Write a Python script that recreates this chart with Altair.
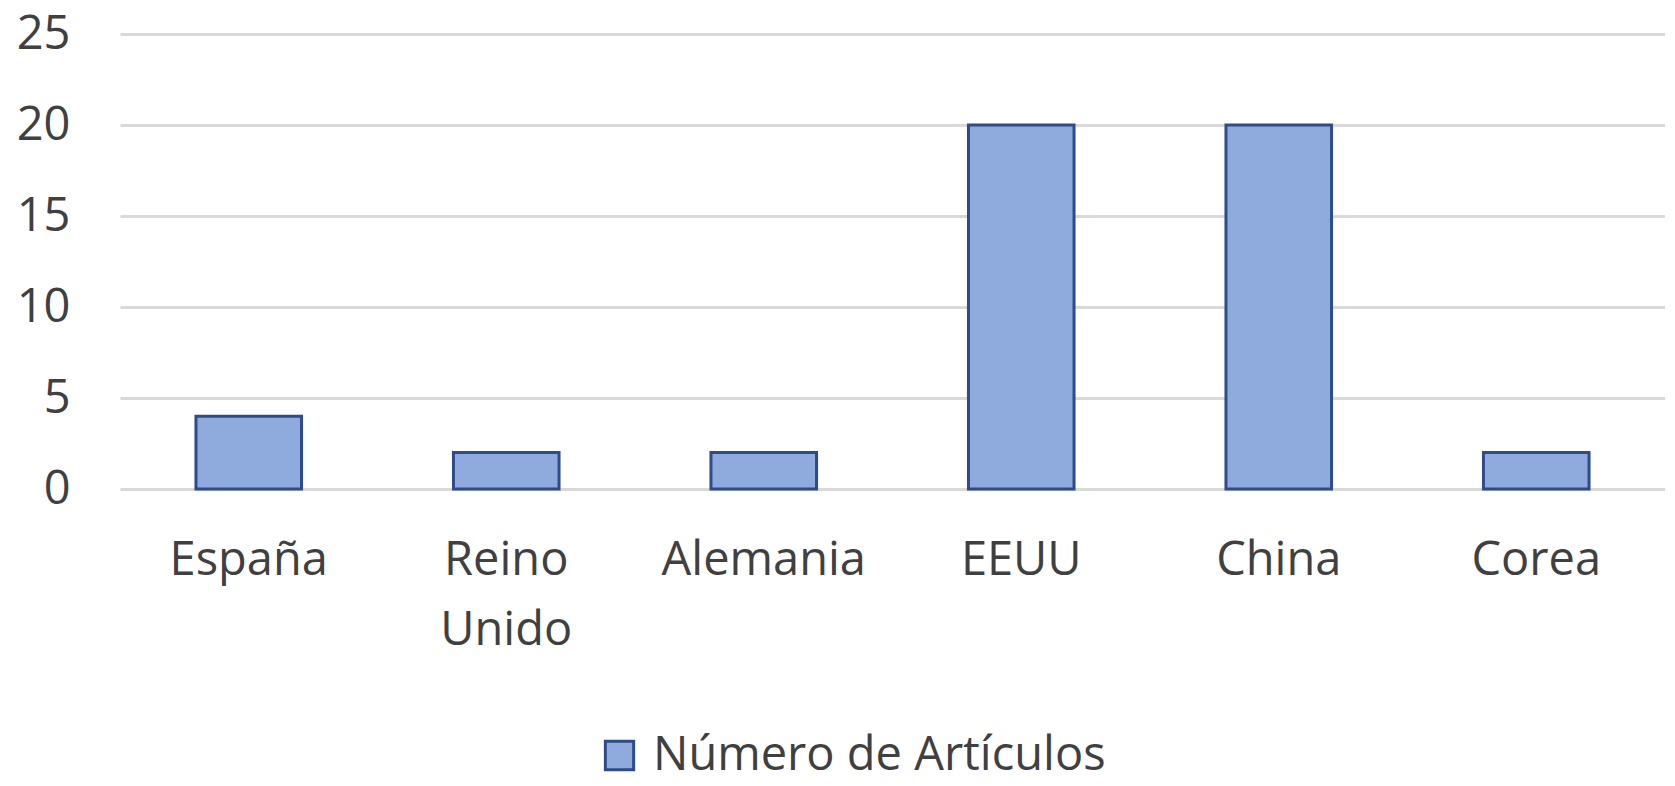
import altair as alt
import pandas as pd

paises = ["España", "Reino Unido", "Alemania", "EEUU", "China", "Corea"]
articulos = [4, 2, 2, 20, 20, 2]
serie = "Número de Artículos"
y_ticks = [0, 5, 10, 15, 20, 25]

df = pd.DataFrame({"pais": paises, "n": articulos, "serie": [serie] * len(paises)})

FONT = "Open Sans"
TXT = "#404040"
FS = 47

bars = alt.Chart(df).mark_bar(stroke="#2f4b8c", strokeWidth=3).encode(
    x=alt.X("pais:N", sort=paises, title=None,
            scale=alt.Scale(paddingInner=0.59, paddingOuter=0.295),
            axis=alt.Axis(labelAngle=0, domain=False, ticks=False, grid=False,
                          labelFont=FONT, labelFontSize=FS, labelColor=TXT,
                          labelPadding=48, labelLineHeight=70, labelLimit=0,
                          labelExpr="split(datum.label, ' ')")),
    y=alt.Y("n:Q", title=None,
            scale=alt.Scale(domain=[0, 25], nice=False),
            axis=alt.Axis(values=y_ticks, domain=False, ticks=False,
                          gridColor="#d9d9d9", gridWidth=3,
                          labelFont=FONT, labelFontSize=FS, labelColor=TXT,
                          labelPadding=50)),
    color=alt.Color("serie:N",
                    scale=alt.Scale(domain=[serie], range=["#8faadc"]),
                    legend=alt.Legend(title=None, orient="none",
                                      legendX=476, legendY=698,
                                      symbolType="square", symbolSize=800,
                                      symbolStrokeColor="#2f4b8c", symbolStrokeWidth=3,
                                      labelFont=FONT, labelFontSize=FS, labelColor=TXT,
                                      labelOffset=10, labelLimit=0)),
)

chart = bars.properties(
    width=1545, height=455,
    background="white",
    autosize=alt.AutoSizeParams(type="none"),
    padding={"left": 112, "top": 26, "right": 0, "bottom": 290},
).configure_view(stroke=None)

chart.save("out.html", embed_options={"renderer": "svg", "actions": False})
